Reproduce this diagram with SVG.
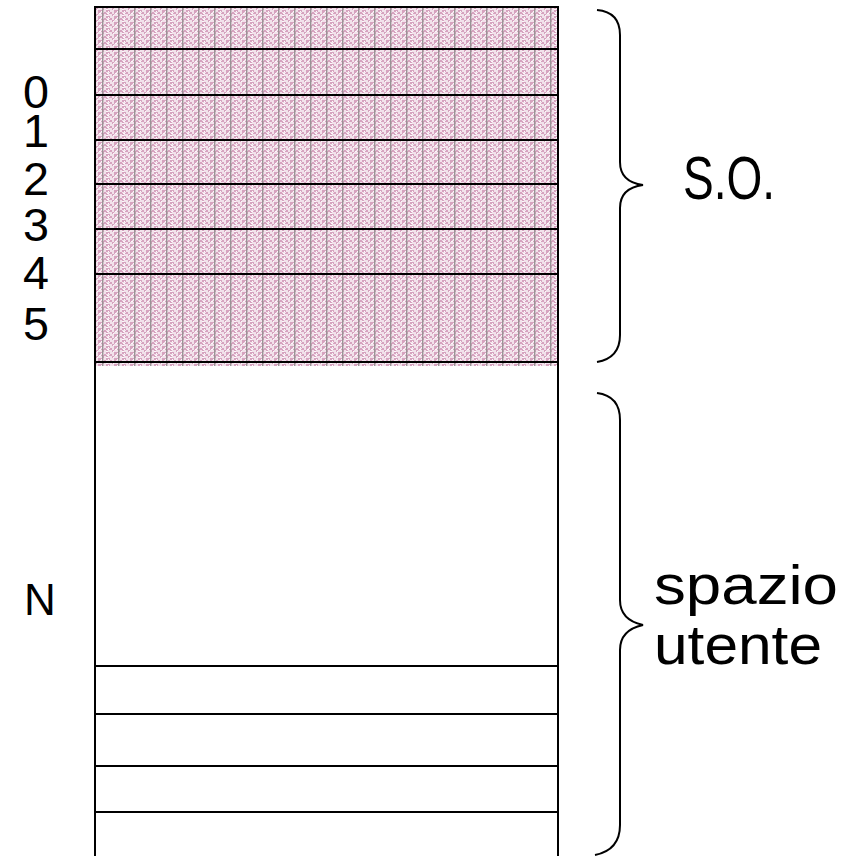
<svg xmlns="http://www.w3.org/2000/svg" width="849" height="856" viewBox="0 0 849 856">
<defs>
<pattern id="hatch" patternUnits="userSpaceOnUse" x="0" y="0" width="16" height="6">
<rect width="16" height="6" fill="#d6a3bf"/>
<path d="M0 0h2v2h-2zM4 0h4v1h-4zM10 0h4v1h-4zM2 2h4v2h-4zM8 2h2v2h-2zM12 2h4v2h-4zM0 4h2v2h-2zM7 4h3v2h-3zM14 4h2v2h-2z" fill="#f2e2eb"/>
<path d="M3 1h2v1h-2zM11 1h2v1h-2zM1 3h1v1h-1zM10 3h2v1h-2zM5 5h2v1h-2zM12 5h1v1h-1z" fill="#fdf8fb"/>
<rect x="6" y="0" width="1.4" height="6" fill="#9a9396"/>
</pattern>
<style>
.lbl{font-family:"Liberation Sans",Arial,sans-serif;fill:#000}
.ln{stroke:#000;stroke-width:2;fill:none}
.br{stroke:#000;stroke-width:2;fill:none}
</style>
</defs>
<rect width="849" height="856" fill="#fff"/>
<g id="memory">
<rect x="95" y="7" width="463" height="359" fill="url(#hatch)"/>
<rect x="95" y="7" width="463" height="860" class="ln"/>
<g id="partitions">
<line x1="95" y1="49" x2="558" y2="49" class="ln"/>
<line x1="95" y1="95" x2="558" y2="95" class="ln"/>
<line x1="95" y1="140" x2="558" y2="140" class="ln"/>
<line x1="95" y1="184" x2="558" y2="184" class="ln"/>
<line x1="95" y1="229" x2="558" y2="229" class="ln"/>
<line x1="95" y1="274" x2="558" y2="274" class="ln"/>
<line x1="95" y1="362" x2="558" y2="362" class="ln"/>
<line x1="95" y1="666" x2="558" y2="666" class="ln"/>
<line x1="95" y1="714" x2="558" y2="714" class="ln"/>
<line x1="95" y1="766" x2="558" y2="766" class="ln"/>
<line x1="95" y1="812" x2="558" y2="812" class="ln"/>
</g>
</g>
<g id="labels-left" class="lbl" font-size="46">
<text x="23" y="108" textLength="26" lengthAdjust="spacingAndGlyphs">0</text>
<text x="23" y="147" textLength="26" lengthAdjust="spacingAndGlyphs">1</text>
<text x="23" y="195" textLength="26" lengthAdjust="spacingAndGlyphs">2</text>
<text x="23" y="241" textLength="26" lengthAdjust="spacingAndGlyphs">3</text>
<text x="23" y="289" textLength="26" lengthAdjust="spacingAndGlyphs">4</text>
<text x="23" y="340" textLength="26" lengthAdjust="spacingAndGlyphs">5</text>
<text x="24" y="615" font-size="44">N</text>
</g>
<g id="connectors">
<path class="br" d="M597 10 Q620 12 620 35 L620 162 Q620 182 643 185 Q620 188 620 208 L620 335 Q620 358 597 362"/>
<path class="br" d="M597 393 Q620 396 620 420 L620 600 Q620 620 643 625 Q620 630 620 650 L620 825 Q620 850 595 855"/>
</g>
<g id="so">
<text class="lbl" x="683" y="199" font-size="62" textLength="92" lengthAdjust="spacingAndGlyphs">S.O.</text>
</g>
<g id="spazio">
<text class="lbl" x="654" y="604" font-size="56" textLength="184" lengthAdjust="spacingAndGlyphs">spazio</text>
<text class="lbl" x="654" y="664" font-size="56" textLength="168" lengthAdjust="spacingAndGlyphs">utente</text>
</g>
</svg>
